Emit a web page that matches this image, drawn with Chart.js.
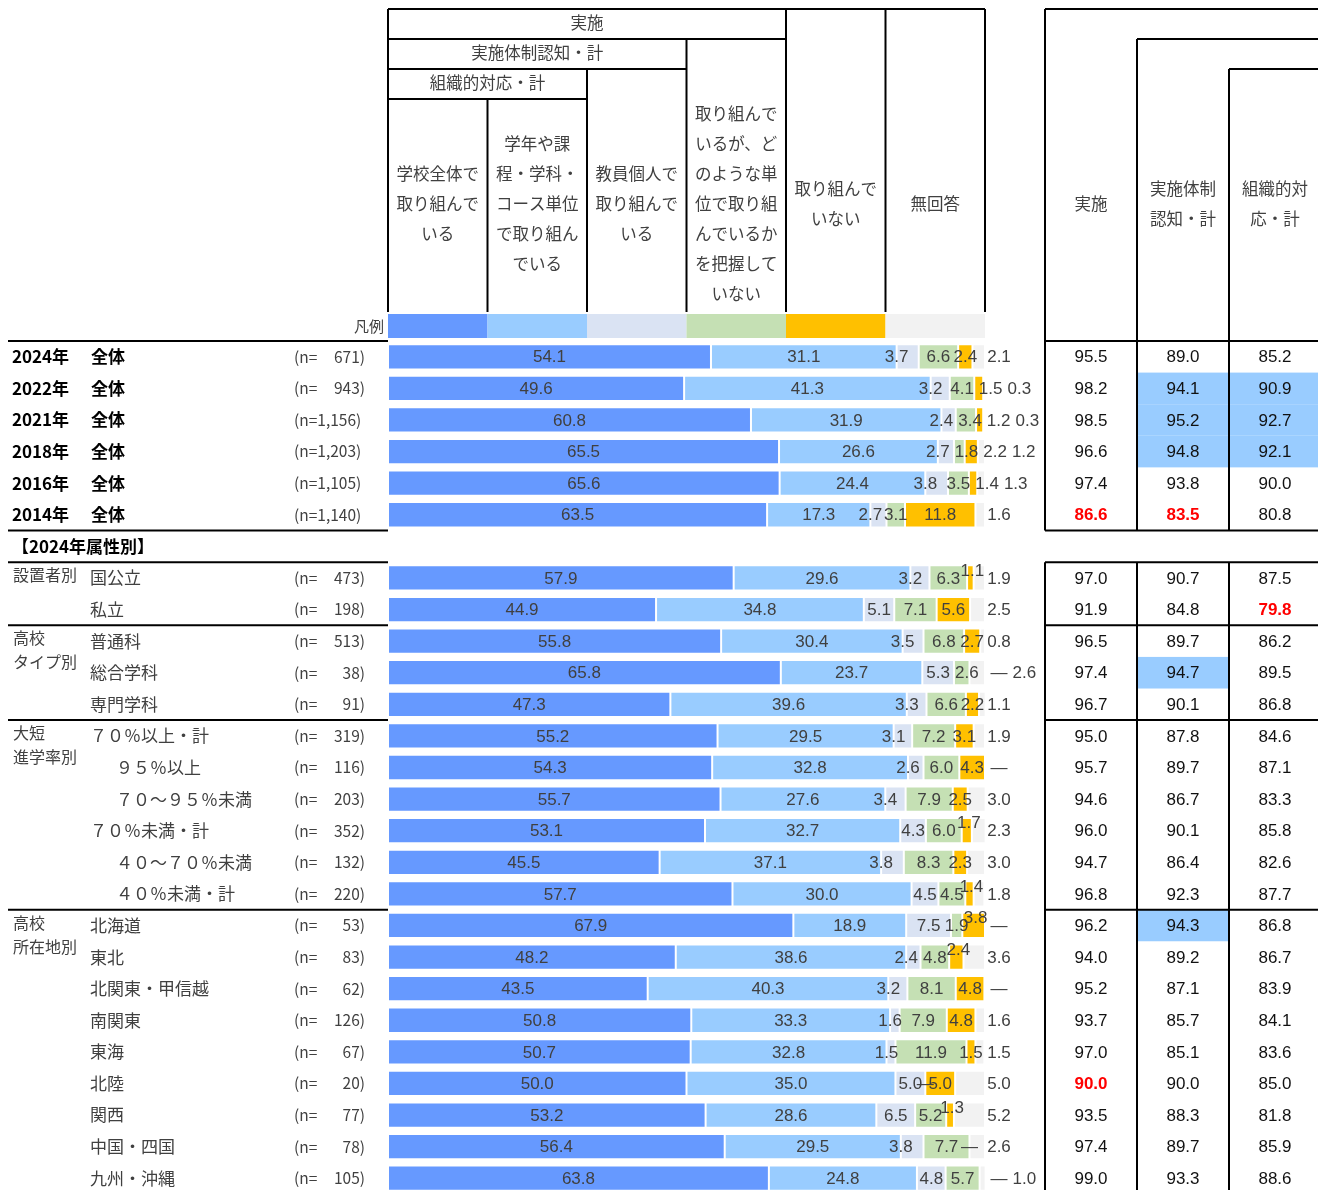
<!DOCTYPE html>
<html lang="ja">
<head>
<meta charset="utf-8">
<title>実施状況</title>
<script src="https://cdn.jsdelivr.net/npm/chart.js@4.4.1/dist/chart.umd.min.js"></script>
<style>
  html, body { margin: 0; padding: 0; background: #fff; overflow: hidden; }
  #wrap { position: relative; width: 1318px; height: 1190px; overflow: hidden; }
  canvas { display: block; }
</style>
</head>
<body>
<div id="wrap"><canvas id="chart" width="1318" height="1200"></canvas></div>
<script>
// row labels (index 6 is the "2024年属性別" heading row, no bars)
const groupNames = ['2024年', '2022年', '2021年', '2018年', '2016年', '2014年', '【2024年属性別】',
  '設置者別', '', '高校\nタイプ別', '', '', '大短\n進学率別', '', '', '', '', '',
  '高校\n所在地別', '', '', '', '', '', '', '', ''];
const itemNames = ['全体', '全体', '全体', '全体', '全体', '全体', '',
  '国公立', '私立', '普通科', '総合学科', '専門学科',
  '７０％以上・計', '　９５％以上', '　７０～９５％未満', '７０％未満・計', '　４０～７０％未満', '　４０％未満・計',
  '北海道', '東北', '北関東・甲信越', '南関東', '東海', '北陸', '関西', '中国・四国', '九州・沖縄'];
const nValues = [671, 943, 1156, 1203, 1105, 1140, null, 473, 198, 513, 38, 91, 319, 116, 203, 352, 132, 220,
  53, 83, 62, 126, 67, 20, 77, 78, 105];

// series (null = "—")
const schoolWide = [54.1, 49.6, 60.8, 65.5, 65.6, 63.5, null, 57.9, 44.9, 55.8, 65.8, 47.3, 55.2, 54.3, 55.7, 53.1, 45.5, 57.7,
  67.9, 48.2, 43.5, 50.8, 50.7, 50.0, 53.2, 56.4, 63.8];
const gradeUnit = [31.1, 41.3, 31.9, 26.6, 24.4, 17.3, null, 29.6, 34.8, 30.4, 23.7, 39.6, 29.5, 32.8, 27.6, 32.7, 37.1, 30.0,
  18.9, 38.6, 40.3, 33.3, 32.8, 35.0, 28.6, 29.5, 24.8];
const teacherOwn = [3.7, 3.2, 2.4, 2.7, 3.8, 2.7, null, 3.2, 5.1, 3.5, 5.3, 3.3, 3.1, 2.6, 3.4, 4.3, 3.8, 4.5,
  7.5, 2.4, 3.2, 1.6, 1.5, 5.0, 6.5, 3.8, 4.8];
const unknownUnit = [6.6, 4.1, 3.4, 1.8, 3.5, 3.1, null, 6.3, 7.1, 6.8, 2.6, 6.6, 7.2, 6.0, 7.9, 6.0, 8.3, 4.5,
  1.9, 4.8, 8.1, 7.9, 11.9, null, 5.2, 7.7, 5.7];
const notDoing = [2.4, 1.5, 1.2, 2.2, 1.4, 11.8, null, 1.1, 5.6, 2.7, null, 2.2, 3.1, 4.3, 2.5, 1.7, 2.3, 1.4,
  3.8, 2.4, 4.8, 4.8, 1.5, 5.0, 1.3, null, null];
const noAnswer = [2.1, 0.3, 0.3, 1.2, 1.3, 1.6, null, 1.9, 2.5, 0.8, 2.6, 1.1, 1.9, null, 3.0, 2.3, 3.0, 1.8,
  null, 3.6, null, 1.6, 1.5, 5.0, 5.2, 2.6, 1.0];

const seriesNames = ['学校全体で取り組んでいる', '学年や課程・学科・コース単位で取り組んでいる', '教員個人で取り組んでいる',
  '取り組んでいるが、どのような単位で取り組んでいるかを把握していない', '取り組んでいない', '無回答'];
const seriesColors = ['#6699FF', '#99CCFF', '#DAE3F3', '#C5E0B4', '#FFC000', '#F2F2F2'];

// right-hand summary table
const totalDone = [95.5, 98.2, 98.5, 96.6, 97.4, 86.6, null, 97.0, 91.9, 96.5, 97.4, 96.7, 95.0, 95.7, 94.6, 96.0, 94.7, 96.8,
  96.2, 94.0, 95.2, 93.7, 97.0, 90.0, 93.5, 97.4, 99.0];
const totalAware = [89.0, 94.1, 95.2, 94.8, 93.8, 83.5, null, 90.7, 84.8, 89.7, 94.7, 90.1, 87.8, 89.7, 86.7, 90.1, 86.4, 92.3,
  94.3, 89.2, 87.1, 85.7, 85.1, 90.0, 88.3, 89.7, 93.3];
const totalOrg = [85.2, 90.9, 92.7, 92.1, 90.0, 80.8, null, 87.5, 79.8, 86.2, 89.5, 86.8, 84.6, 87.1, 83.3, 85.8, 82.6, 87.7,
  86.8, 86.7, 83.9, 84.1, 83.6, 85.0, 81.8, 85.9, 88.6];
const highCells = [[1, 1], [1, 2], [2, 1], [2, 2], [3, 1], [3, 2], [10, 1], [18, 1]];
const lowCells = [[5, 0], [5, 1], [8, 2], [23, 0]];

const series = [schoolWide, gradeUnit, teacherOwn, unknownUnit, notDoing, noAnswer];
const totals = [totalDone, totalAware, totalOrg];

const JP = '"Noto Sans CJK JP", "Noto Sans", sans-serif';
const NUM = '"Liberation Sans", Arial, sans-serif';

function hline(ctx, x1, x2, y) {
  ctx.beginPath(); ctx.moveTo(x1, y); ctx.lineTo(x2, y); ctx.stroke();
}
function vline(ctx, x, y1, y2) {
  ctx.beginPath(); ctx.moveTo(x, y1); ctx.lineTo(x, y2); ctx.stroke();
}
function multiText(ctx, lines, cx, cy, lh) {
  lines.forEach((t, j) => ctx.fillText(t, cx, cy + (j - (lines.length - 1) / 2) * lh));
}

const tablePlugin = {
  id: 'tablePlugin',
  afterDatasetsDraw(chart) {
    const ctx = chart.ctx;
    const xs = chart.scales.x, ys = chart.scales.y;
    ctx.save();
    ctx.font = '17px ' + NUM;
    ctx.fillStyle = '#404040';
    ctx.textAlign = 'center';
    ctx.textBaseline = 'middle';
    for (let i = 0; i < itemNames.length; i++) {
      if (series.every(s => s[i] == null)) continue;
      const cy = ys.getPixelForValue(i) + 1;
      let cum = 0, prevRight = -Infinity, prevDash = false;
      series.forEach((s, k) => {
        const v = s[i];
        const txt = v == null ? '—' : v.toFixed(1);
        const tw = ctx.measureText(txt).width;
        const x0 = xs.getPixelForValue(cum);
        const x1 = xs.getPixelForValue(cum + (v || 0));
        cum += v || 0;
        let cx, dy = 0;
        if (k === 5) cx = xs.right + 14;
        else if (v == null) cx = x0;
        else if (x1 - x0 >= tw + 2) cx = (x0 + x1) / 2;
        else if (k === 2) cx = x0;
        else cx = (x0 + x1) / 2;
        if (cx - tw / 2 < prevRight + 1 && !prevDash) {
          if (v == null && k === 4) cx = xs.right + 14;
          else if (v == null) { /* keep the dash on its spot */ }
          else if (k === 4 && i > 6) { dy = -8; cx += 2; }
          else cx = prevRight + 5 + tw / 2;
        }
        prevDash = v == null && k < 4;
        prevRight = Math.max(prevRight, cx + tw / 2);
        ctx.fillText(txt, cx, cy + dy);
      });
    }
    ctx.restore();
  },
  afterDraw(chart) {
    const ctx = chart.ctx;
    const xs = chart.scales.x, ys = chart.scales.y;
    const band = ys.getPixelForValue(1) - ys.getPixelForValue(0);
    const rowTop = i => ys.getPixelForValue(i) - band / 2;
    const colW = (xs.right - xs.left) / 6;
    const colX = k => xs.left + k * colW;
    const rx = [1045, 1137, 1229, 1321];
    const bottom = chart.height;
    ctx.save();

    // legend swatches under header
    seriesColors.forEach((c, k) => {
      ctx.fillStyle = c;
      ctx.fillRect(colX(k), 314, colW, 24);
    });

    // highlighted cells in the right table
    ctx.fillStyle = '#99CCFF';
    highCells.forEach(([r, c]) => {
      ctx.fillRect(rx[c] + 1, rowTop(r), rx[c + 1] - rx[c] - 2, band);
    });

    // table lines
    ctx.strokeStyle = '#000';
    ctx.lineWidth = 2;
    // header grid
    hline(ctx, colX(0), colX(6), 9);
    hline(ctx, colX(0), colX(4), 39);
    hline(ctx, colX(0), colX(3), 69);
    hline(ctx, colX(0), colX(2), 99);
    vline(ctx, colX(0), 9, 312);
    vline(ctx, colX(1), 99, 312);
    vline(ctx, colX(2), 69, 312);
    vline(ctx, colX(3), 39, 312);
    vline(ctx, colX(4), 9, 312);
    vline(ctx, colX(5), 9, 312);
    vline(ctx, colX(6), 9, 312);
    // right table header
    hline(ctx, rx[0], 1318, 9);
    hline(ctx, rx[1], 1318, 39);
    hline(ctx, rx[2], 1318, 69);
    vline(ctx, rx[0], 9, rowTop(6));
    vline(ctx, rx[1], 39, rowTop(6));
    vline(ctx, rx[2], 69, rowTop(6));
    [rx[0], rx[1], rx[2]].forEach(x => vline(ctx, x, rowTop(7), bottom));
    // row separators
    [0, 6, 7, 9, 12, 18].forEach(r => {
      hline(ctx, 8, xs.left, rowTop(r));
      hline(ctx, rx[0], 1318, rowTop(r));
    });

    // header texts
    ctx.fillStyle = '#404040';
    ctx.textAlign = 'center';
    ctx.textBaseline = 'middle';
    ctx.font = '16.5px ' + JP;
    ctx.fillText('実施', (colX(0) + colX(4)) / 2, 23);
    ctx.fillText('実施体制認知・計', (colX(0) + colX(3)) / 2, 53);
    ctx.fillText('組織的対応・計', (colX(0) + colX(2)) / 2, 83);
    const headCols = [
      ['学校全体で', '取り組んで', 'いる'],
      ['学年や課', '程・学科・', 'コース単位', 'で取り組ん', 'でいる'],
      ['教員個人で', '取り組んで', 'いる'],
      ['取り組んで', 'いるが、ど', 'のような単', '位で取り組', 'んでいるか', 'を把握して', 'いない'],
      ['取り組んで', 'いない'],
      ['無回答']
    ];
    headCols.forEach((lines, k) => multiText(ctx, lines, colX(k) + colW / 2, 204, 30));
    const rightHead = [['実施'], ['実施体制', '認知・計'], ['組織的対', '応・計']];
    rightHead.forEach((lines, k) => multiText(ctx, lines, (rx[k] + rx[k + 1]) / 2, 204, 30));
    ctx.textAlign = 'right';
    ctx.font = '15px ' + JP;
    ctx.fillText('凡例', 384, 326);

    // left labels
    for (let i = 0; i < itemNames.length; i++) {
      const cy = ys.getPixelForValue(i);
      const g = groupNames[i];
      ctx.textAlign = 'left';
      if (i <= 6) {
        ctx.fillStyle = '#000';
        ctx.font = 'bold 17px ' + JP;
        ctx.fillText(g, 12, cy);
        if (itemNames[i]) ctx.fillText(itemNames[i], 91, cy);
      } else {
        ctx.fillStyle = '#404040';
        ctx.font = '16px ' + JP;
        if (g) {
          const gl = g.split('\n');
          gl.forEach((t, j) => ctx.fillText(t, 13, cy - 3 + j * 24));
        }
        let it = itemNames[i];
        let ix = 90;
        if (it.startsWith('　')) { it = it.slice(1); ix = 116; }
        ctx.font = '17px ' + JP;
        ctx.fillText(it, ix, cy);
      }
      if (nValues[i] != null) {
        ctx.fillStyle = '#404040';
        ctx.font = '15.5px ' + JP;
        ctx.textAlign = 'left';
        if (nValues[i] >= 1000) {
          ctx.fillText('(n=' + nValues[i].toLocaleString('en-US') + ')', 294, cy);
        } else {
          ctx.fillText('(n=', 294, cy);
          ctx.textAlign = 'right';
          ctx.fillText(nValues[i] + ')', 365, cy);
        }
      }
    }

    // right table values
    ctx.textAlign = 'center';
    for (let i = 0; i < itemNames.length; i++) {
      const cy = ys.getPixelForValue(i) + 1;
      totals.forEach((t, c) => {
        if (t[i] == null) return;
        const low = lowCells.some(([r, cc]) => r === i && cc === c);
        ctx.fillStyle = low ? '#FF0000' : '#111';
        ctx.font = (low ? 'bold ' : '') + '17px ' + NUM;
        ctx.fillText(t[i].toFixed(1), (rx[c] + rx[c + 1]) / 2, cy);
      });
    }
    ctx.restore();
  }
};

const ctx = document.getElementById('chart').getContext('2d');
const chart = new Chart(ctx, {
  type: 'bar',
  data: {
    labels: itemNames.map((t, i) => groupNames[i] + ' ' + t),
    datasets: series.map((s, k) => ({
      label: seriesNames[k],
      data: s,
      backgroundColor: seriesColors[k],
      borderColor: 'rgba(255,255,255,0.6)',
      borderWidth: 1,
      borderSkipped: false,
      categoryPercentage: 1,
      barPercentage: 0.8
    }))
  },
  options: {
    indexAxis: 'y',
    responsive: false,
    devicePixelRatio: 1,
    animation: false,
    layout: { padding: { left: 388, right: 333, top: 341, bottom: 6 } },
    scales: {
      x: { stacked: true, min: 0, max: 100, display: false },
      y: { stacked: true, display: false }
    },
    plugins: {
      legend: { display: false },
      tooltip: { enabled: false }
    }
  },
  plugins: [tablePlugin]
});
</script>
</body>
</html>
